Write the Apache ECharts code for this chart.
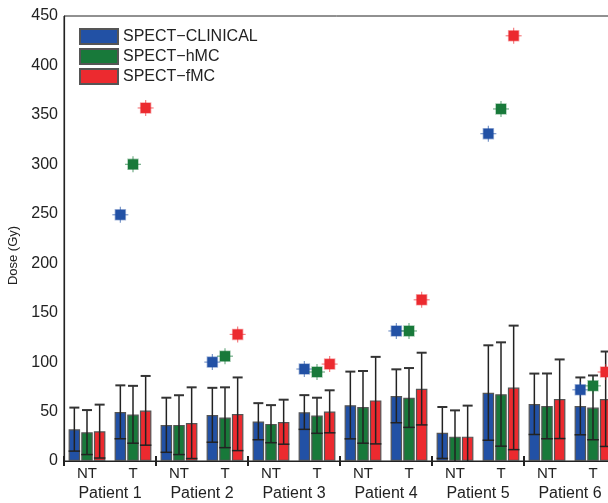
<!DOCTYPE html>
<html>
<head>
<meta charset="utf-8">
<script src="https://cdn.jsdelivr.net/npm/echarts@6/dist/echarts.min.js"></script>
<style>
  html, body { margin: 0; padding: 0; background: #fff; }
  #chart { width: 608px; height: 503px; }
</style>
</head>
<body>
<div id="chart"></div>
<script>
// x categories
const patients = ['Patient 1', 'Patient 2', 'Patient 3', 'Patient 4', 'Patient 5', 'Patient 6'];
const regions = ['NT', 'T', 'NT', 'T', 'NT', 'T', 'NT', 'T', 'NT', 'T', 'NT', 'T'];

// mean dose (bars) and std (error bars), per region
const clinicalMean = [32, 49.5, 36.4, 46.5, 40, 49.3, 56.4, 65.7, 28.6, 69, 57.6, 55.5];
const clinicalStd = [22, 27, 27.6, 27.5, 18.5, 17.3, 34, 27, 26, 48, 30.8, 29];
const hmcMean = [29, 47, 36.5, 44, 37.5, 46, 54.5, 64, 24.6, 67.5, 55.5, 54];
const hmcStd = [22.5, 29, 30, 30.5, 19, 18, 36.5, 30, 26.6, 52.5, 33, 32.5];
const fmcMean = [30, 51, 38.5, 47.5, 39.5, 50, 61.3, 73, 24.6, 74.2, 62.7, 62.7];
const fmcStd = [27, 35, 36, 37, 22.5, 21.5, 44, 36.5, 31.4, 62.7, 40, 48];

// max tumour dose markers (one per patient, on the T region)
const clinicalMax = [249, 100, 93, 131.5, 331, 72];
const hmcMax = [300, 106, 90, 131.5, 356, 76];
const fmcMax = [357, 128, 98, 163, 430, 90];

const names = ['SPECT\u2212CLINICAL', 'SPECT\u2212hMC', 'SPECT\u2212fMC'];
const colors = ['#2251a5', '#18793a', '#ec2a2f'];
const means = [clinicalMean, hmcMean, fmcMean];
const stds = [clinicalStd, hmcStd, fmcStd];
const maxes = [clinicalMax, hmcMax, fmcMax];

const barW = 11.5;
const step = barW * 1.1;
const font = 'Liberation Sans, Arial, sans-serif';

const chart = echarts.init(document.getElementById('chart'));

function errorSeries(k) {
  const data = means[k].map((m, i) => [i, m, stds[k][i]]);
  return {
    type: 'custom',
    xAxisIndex: 0,
    z: 5,
    silent: true,
    data: data,
    renderItem: function (params, api) {
      const i = api.value(0), m = api.value(1), s = api.value(2);
      const dx = (k - 1) * step;
      const top = api.coord([i, m + s]);
      const lowVal = m - s;
      const low = api.coord([i, Math.max(0, lowVal)]);
      const x = top[0] + dx;
      const kids = [
        { type: 'line', shape: { x1: x, y1: top[1], x2: x, y2: low[1] },
          style: { stroke: '#222', lineWidth: 1.5 } },
        { type: 'line', shape: { x1: x - 5, y1: top[1], x2: x + 5, y2: top[1] },
          style: { stroke: '#333', lineWidth: 2 } }
      ];
      if (lowVal > 0) {
        kids.push({ type: 'line', shape: { x1: x - barW / 2, y1: low[1], x2: x + barW / 2, y2: low[1] },
          style: { stroke: '#222', lineWidth: 1.5 } });
      }
      return { type: 'group', children: kids };
    }
  };
}

function markerSeries(k) {
  const data = maxes[k].map((v, p) => [p * 2 + 1, v]);
  return {
    type: 'custom',
    xAxisIndex: 0,
    z: 6,
    silent: true,
    data: data,
    renderItem: function (params, api) {
      const c = api.coord([api.value(0), api.value(1)]);
      const x = c[0] + (k - 1) * step, y = c[1];
      const col = colors[k];
      return {
        type: 'group',
        children: [
          { type: 'line', shape: { x1: x - 8, y1: y, x2: x + 8, y2: y },
            style: { stroke: col, lineWidth: 1.2, opacity: 0.6 } },
          { type: 'line', shape: { x1: x, y1: y - 8, x2: x, y2: y + 8 },
            style: { stroke: col, lineWidth: 1.2, opacity: 0.6 } },
          { type: 'rect', shape: { x: x - 5, y: y - 5, width: 10, height: 10 },
            style: { fill: col, stroke: col, lineWidth: 1.5, strokeOpacity: 0.4 } }
        ]
      };
    }
  };
}

const barSeries = names.map((n, k) => ({
  name: n,
  type: 'bar',
  xAxisIndex: 0,
  barWidth: barW,
  barGap: '10%',
  data: means[k],
  itemStyle: { color: colors[k], borderColor: '#555', borderWidth: 1.2 },
  silent: true
}));

const option = {
  animation: false,
  backgroundColor: '#fff',
  textStyle: { fontFamily: font },
  grid: {
    left: 64, top: 16, width: 552, height: 445,
    containLabel: false,
    outerBoundsMode: 'none',
    show: true, borderColor: '#222', borderWidth: 1
  },
  legend: {
    orient: 'vertical',
    left: 79, top: 28, padding: 0,
    itemWidth: 38, itemHeight: 15, itemGap: 3,
    icon: 'rect',
    data: names,
    textStyle: { fontSize: 16, color: '#222', fontFamily: font }
  },
  xAxis: [
    {
      type: 'category',
      data: regions,
      position: 'bottom',
      axisLine: { lineStyle: { color: '#222', width: 1.2 } },
      axisTick: { show: false },
      axisLabel: { color: '#222', fontSize: 15, margin: 5, fontFamily: font }
    },
    {
      type: 'category',
      data: patients,
      position: 'bottom',
      offset: -5,
      axisLine: { show: false },
      axisTick: { show: true, length: 10, lineStyle: { color: '#222', width: 2 } },
      axisLabel: { color: '#222', fontSize: 16, margin: 30, fontFamily: font }
    }
  ],
  yAxis: {
    type: 'value',
    min: 0, max: 450, interval: 50,
    name: 'Dose (Gy)',
    nameLocation: 'middle',
    nameGap: 44,
    nameTextStyle: { color: '#222', fontSize: 13, fontFamily: font, padding: [0, 34, 0, 0] },
    axisLine: { show: true, lineStyle: { color: '#222', width: 1.2 } },
    axisTick: { show: false },
    splitLine: { show: false },
    axisLabel: { color: '#222', fontSize: 16, margin: 6, fontFamily: font }
  },
  series: barSeries
    .concat([0, 1, 2].map(errorSeries))
    .concat([0, 1, 2].map(markerSeries))
};

chart.setOption(option);
</script>
</body>
</html>
